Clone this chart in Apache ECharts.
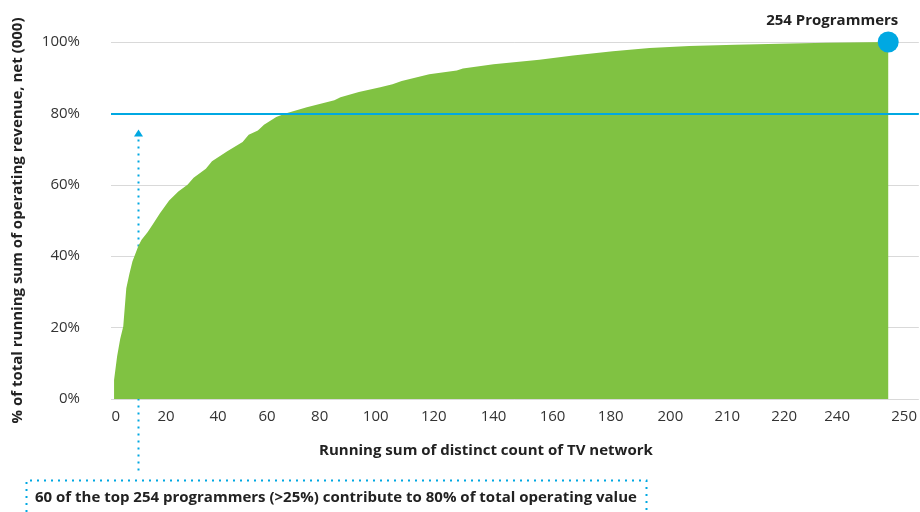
<!DOCTYPE html>
<html>
<head>
<meta charset="utf-8">
<script src="https://cdn.jsdelivr.net/npm/echarts@6/dist/echarts.min.js"></script>
<style>html,body{margin:0;padding:0;background:#fff}#main{width:920px;height:512px}</style>
</head>
<body>
<div id="main"></div>
<script>
// Programmer rank (running count) and cumulative % of operating revenue
const ranks = [1, 2, 3, 4, 5, 6, 7, 9, 10, 12, 14, 16, 19, 22, 25, 27, 31, 33, 38, 43, 45, 48, 50, 54, 57, 64, 73, 75, 81, 88, 92, 95, 104, 113, 115, 125, 140, 151, 164, 176, 189, 204, 222, 234, 254];
const pctValues = [5.3, 12, 16.8, 20.3, 31, 35, 38.5, 43, 44.6, 46.8, 49.4, 52, 55.6, 58.1, 60, 62, 64.5, 66.6, 69.4, 72, 74, 75.2, 76.8, 79, 80, 81.7, 83.7, 84.5, 86, 87.3, 88.2, 89.1, 91, 92, 92.6, 93.8, 95, 96.2, 97.4, 98.3, 98.9, 99.2, 99.6, 99.8, 100];
// x-axis tick labels and the rank position where each is shown
const xTickLabels = ['0', '20', '40', '60', '80', '100', '120', '140', '160', '180', '200', '210', '220', '240', '250'];
const xTickPos = [1.6, 18, 35, 51, 68.2, 86.5, 105.5, 125, 144.3, 163.3, 182.8, 201.4, 220, 237.3, 259.2];
const yTicks = [0, 20, 40, 60, 80, 100];
const thresholdPct = 80;
const endLabel = '254 Programmers';
const annotationText = '60 of the top 254 programmers (>25%) contribute to 80% of total operating value';
const arrowRank = 8.8;
const arrowTopPct = 75.5;

const GREEN = '#80c242';
const BLUE = '#00a8e2';
const FONT = 'Open Sans';

const chart = echarts.init(document.getElementById('main'), null, {renderer: 'canvas'});
const lastIdx = ranks.length - 1;

chart.setOption({
  animation: false,
  textStyle: {fontFamily: FONT},
  grid: {left: 111, right: 0, top: 42, bottom: 113, containLabel: false},
  xAxis: {
    type: 'value',
    min: 0,
    max: 264,
    name: 'Running sum of distinct count of TV network',
    nameLocation: 'middle',
    nameGap: 44,
    nameTextStyle: {fontFamily: FONT, fontWeight: 'bold', fontSize: 15, color: '#222', padding: [0, 58, 0, 0]},
    axisLine: {show: false},
    axisTick: {show: false},
    splitLine: {show: false},
    axisLabel: {
      customValues: xTickPos,
      margin: 10,
      fontFamily: FONT,
      fontSize: 15,
      color: '#333',
      formatter: function (v) {
        const i = xTickPos.indexOf(v);
        return i >= 0 ? xTickLabels[i] : '';
      }
    }
  },
  yAxis: {
    type: 'value',
    min: yTicks[0],
    max: yTicks[yTicks.length - 1],
    interval: 20,
    name: '% of total running sum of operating revenue, net (000)',
    nameLocation: 'middle',
    nameGap: 86,
    nameTextStyle: {fontFamily: FONT, fontWeight: 'bold', fontSize: 15, color: '#222'},
    axisLine: {show: false},
    axisTick: {show: false},
    axisLabel: {margin: 31, fontFamily: FONT, fontSize: 15, color: '#333', formatter: '{value}%'},
    splitLine: {show: true, lineStyle: {color: '#d9d9d9', width: 1}}
  },
  series: [
    {
      type: 'line',
      data: ranks.map((r, i) => [r, pctValues[i]]),
      showSymbol: false,
      symbol: 'none',
      lineStyle: {width: 0, color: GREEN},
      areaStyle: {color: GREEN, opacity: 1},
      markLine: {
        silent: true,
        symbol: 'none',
        label: {show: false},
        lineStyle: {color: BLUE, width: 2, type: 'solid'},
        data: [{yAxis: thresholdPct}]
      }
    },
    {
      type: 'scatter',
      clip: false,
      data: [[ranks[lastIdx], pctValues[lastIdx]]],
      symbolSize: 21,
      itemStyle: {color: BLUE, opacity: 1},
      z: 5,
      label: {
        show: true,
        position: 'top',
        distance: 3,
        offset: [-56, 0],
        formatter: endLabel,
        fontFamily: FONT,
        fontWeight: 'bold',
        fontSize: 15,
        color: '#222'
      }
    }
  ]
});

const tip = chart.convertToPixel({gridIndex: 0}, [arrowRank, arrowTopPct]);
const ax = Math.round(tip[0]) + 0.5;
const dot = {stroke: BLUE, lineWidth: 2, lineDash: [2, 5]};
chart.setOption({
  graphic: [
    {type: 'line', shape: {x1: ax, y1: tip[1] + 10, x2: ax, y2: 475}, style: dot, silent: true},
    {type: 'polygon', shape: {points: [[ax, tip[1]], [ax - 4.5, tip[1] + 7], [ax + 4.5, tip[1] + 7]]}, style: {fill: BLUE}, silent: true},
    {type: 'polyline', shape: {points: [[26.5, 512], [26.5, 480.5], [646.5, 480.5], [646.5, 512]]}, style: Object.assign({fill: null}, dot), silent: true},
    {type: 'text', x: 35, y: 498, style: {text: annotationText, fontFamily: FONT, fontWeight: 'bold', fontSize: 15, fill: '#222', verticalAlign: 'middle', align: 'left'}, silent: true}
  ]
});
</script>
</body>
</html>
